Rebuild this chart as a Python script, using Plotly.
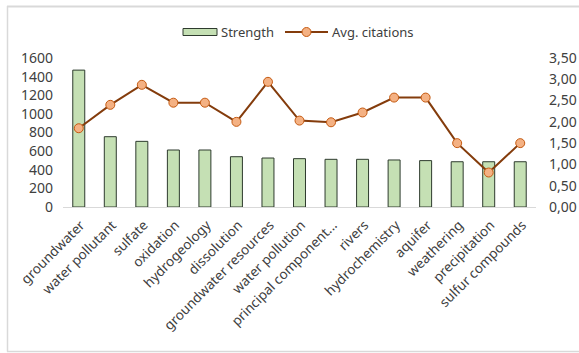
import plotly.graph_objects as go

categories = ["groundwater", "water pollutant", "sulfate", "oxidation", "hydrogeology",
              "dissolution", "groundwater resources", "water pollution",
              "principal component...", "rivers", "hydrochemistry", "aquifer",
              "weathering", "precipitation", "sulfur compounds"]
strength = [1470, 755, 705, 612, 612, 540, 526, 519, 512, 512, 505, 498, 486, 486, 486]
avg_citations = [1.85, 2.40, 2.87, 2.45, 2.45, 2.00, 2.94, 2.03, 1.99, 2.22, 2.57, 2.57, 1.50, 0.81, 1.50]
left_ticks = [0, 200, 400, 600, 800, 1000, 1200, 1400, 1600]
right_ticks = [0, 0.5, 1.0, 1.5, 2.0, 2.5, 3.0, 3.5]

FONT = "Noto Sans"
TXT = "#404040"
BAR_FILL = "#c5e0b4"
BAR_LINE = "#2e3b2e"
LINE_COL = "#843c0c"
MK_FILL = "#f4b183"
MK_LINE = "#c55a11"

W, H = 579, 353
L, R, T, B = 63, 43, 58, 146
pw, ph = W - L - R, H - T - B

def px(x):
    return (x - L) / pw

def py(y):
    return (H - B - y) / ph

fig = go.Figure()
fig.add_trace(go.Bar(x=categories, y=strength, name="Strength", width=0.38,
                     marker=dict(color=BAR_FILL, line=dict(color=BAR_LINE, width=1)),
                     showlegend=False))
fig.add_trace(go.Scatter(x=categories, y=avg_citations, name="Avg. citations", yaxis="y2",
                         mode="lines+markers",
                         line=dict(color=LINE_COL, width=2),
                         marker=dict(size=9, color=MK_FILL, line=dict(color=MK_LINE, width=1)),
                         showlegend=False))

shapes = [
    # outer frame (top, left, bottom)
    dict(type="line", xref="paper", yref="paper", x0=px(7), x1=px(579), y0=py(6.5), y1=py(6.5),
         line=dict(color="#d9d9d9", width=2)),
    dict(type="line", xref="paper", yref="paper", x0=px(7.5), x1=px(7.5), y0=py(6), y1=py(351.5),
         line=dict(color="#d9d9d9", width=1.5)),
    dict(type="line", xref="paper", yref="paper", x0=px(7), x1=px(579), y0=py(351.5), y1=py(351.5),
         line=dict(color="#d9d9d9", width=1.5)),
    # legend symbols
    dict(type="rect", xref="paper", yref="paper", x0=px(183), x1=px(217), y0=py(35.5), y1=py(28.5),
         fillcolor=BAR_FILL, line=dict(color=BAR_LINE, width=1)),
    dict(type="line", xref="paper", yref="paper", x0=px(285), x1=px(328), y0=py(32), y1=py(32),
         line=dict(color=LINE_COL, width=2)),
    dict(type="circle", xref="paper", yref="paper", x0=px(302), x1=px(311), y0=py(36.5), y1=py(27.5),
         fillcolor=MK_FILL, line=dict(color=MK_LINE, width=1)),
]
annotations = [
    dict(text="Strength", xref="paper", yref="paper", x=px(219), y=py(32), xanchor="left",
         yanchor="middle", showarrow=False, font=dict(family=FONT, size=13, color=TXT)),
    dict(text="Avg. citations", xref="paper", yref="paper", x=px(330), y=py(32), xanchor="left",
         yanchor="middle", showarrow=False, font=dict(family=FONT, size=13, color=TXT)),
]

fig.update_layout(
    width=W, height=H,
    margin=dict(l=L, r=R, t=T, b=B, pad=0, autoexpand=False),
    paper_bgcolor="white", plot_bgcolor="white",
    separators=", ",
    font=dict(family=FONT, size=13, color=TXT),
    bargap=0.62,
    xaxis=dict(type="category", tickangle=-45, showgrid=False, showline=True,
               linecolor="#d9d9d9", linewidth=1, ticks="", ticklabelstandoff=4,
               ticklabelshift=2, automargin=False,
               tickfont=dict(family=FONT, size=13.5, color=TXT), range=[-0.5, 14.5]),
    yaxis=dict(range=[0, 1600], tickvals=left_ticks, showgrid=False, zeroline=False,
               showline=False, ticks="", ticklabelstandoff=9, automargin=False,
               tickfont=dict(family=FONT, size=14, color=TXT)),
    yaxis2=dict(range=[0, 3.5], tickvals=right_ticks, tickformat=".2f", overlaying="y",
                side="right", showgrid=False, zeroline=False, showline=False, ticks="",
                ticklabelstandoff=12, automargin=False,
                tickfont=dict(family=FONT, size=14, color=TXT)),
    shapes=shapes, annotations=annotations,
)

fig.write_html("out.html")
